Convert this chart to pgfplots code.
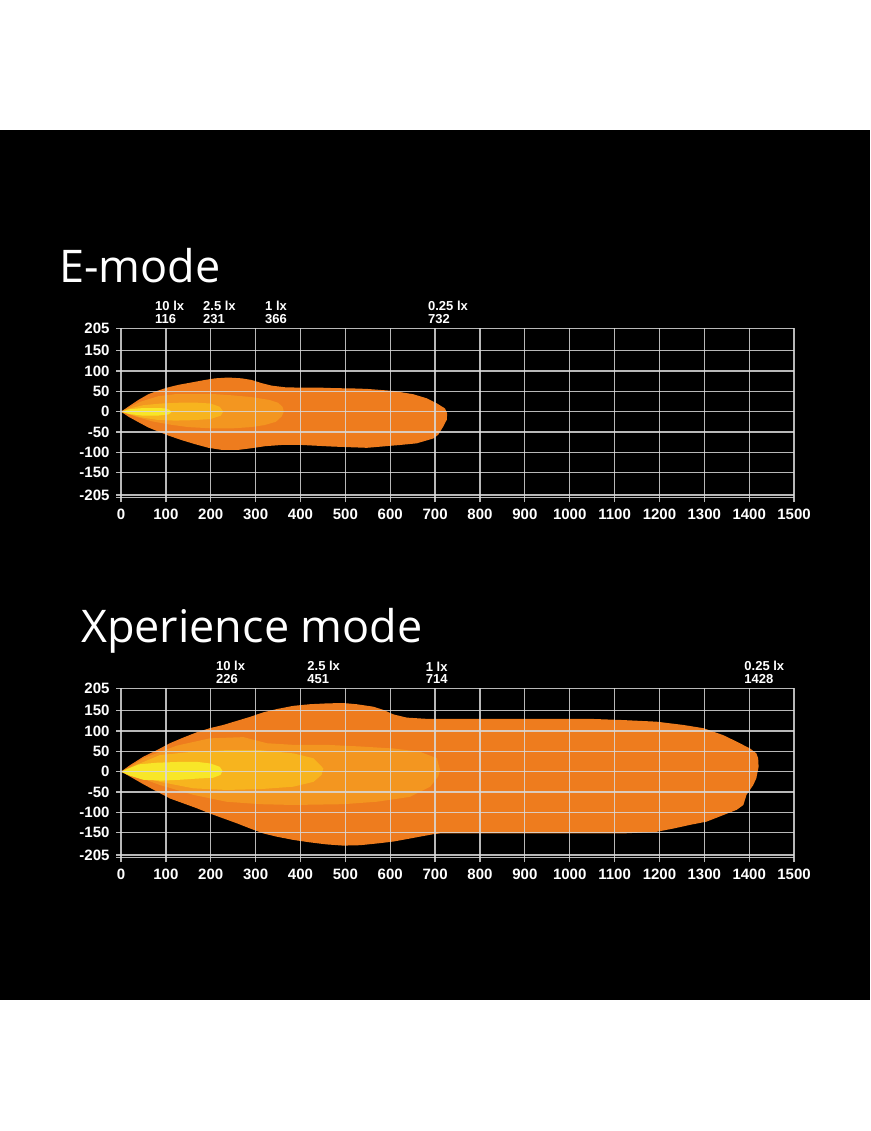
\documentclass[border=0pt]{standalone}
\usepackage{fontspec}
\setmainfont{Liberation Sans}
\newfontfamily\titlefont{Open Sans}
\usepackage{pgfplots}
\pgfplotsset{compat=1.18}
\definecolor{cA}{RGB}{238,124,30}
\definecolor{cB}{RGB}{243,150,32}
\definecolor{cC}{RGB}{247,180,30}
\definecolor{cD}{RGB}{248,230,40}
\tikzset{luxlbl/.style={anchor=south west, inner sep=0pt, align=left, white,
    font=\bfseries\fontsize{13}{12.6}\selectfont, yshift=4.5pt}}
\pgfplotsset{luxaxis/.style={
  scale only axis, x=0.4487pt, y=0.4063pt,
  xmin=0, xmax=1500, ymin=-211, ymax=205,
  axis on top, clip=false,
  axis line style={draw=none},
  xtick={0,100,200,300,400,500,600,700,800,900,1000,1100,1200,1300,1400,1500},
  xticklabels={0,100,200,300,400,500,600,700,800,900,1000,1100,1200,1300,1400,1500},
  ytick={-205,-150,-100,-50,0,50,100,150,205},
  yticklabels={-205,-150,-100,-50,0,50,100,150,205},
  extra y ticks={-211}, extra y tick labels={},
  extra y tick style={grid=major},
  grid=major,
  major grid style={white!85!black, opacity=0.85, line width=1.3pt},
  tick style={white!85!black, opacity=0.85, line width=1.3pt},
  xtick pos=left, ytick pos=left,
  tick align=outside, major tick length=5pt,
  tick label style={white, font=\bfseries\fontsize{15}{15}\selectfont},
  xticklabel style={yshift=-3pt},
  yticklabel style={xshift=-3pt},
}}
\begin{document}
\begin{tikzpicture}[x=1pt,y=1pt]
\fill[white] (0,0) rectangle (870,1131);
\fill[black] (0,131) rectangle (870,1001);
\node[anchor=base west, inner sep=0pt, white, font=\titlefont\fontsize{45}{45}\selectfont] at (59,848.3) {E-mode};
\node[anchor=base west, inner sep=0pt, white, font=\titlefont\fontsize{45}{45}\selectfont] at (81,488.3) {Xperience mode};

\begin{axis}[luxaxis, at={(121pt,633.6pt)}, anchor=south west]
\addplot[fill=cA, draw=none] coordinates {(0,0) (16,12) (39,29) (61,43) (83,52) (102,59) (128,66) (158,72) (187,78) (210,82) (239,84) (269,82) (291,78) (314,70) (336,64) (366,60) (403,59) (447,59) (473,58) (522,57) (548,56) (607,51) (651,43) (681,33) (703,21) (722,8) (727,-4) (726,-20) (718,-37) (707,-57) (696,-66) (659,-78) (622,-82) (548,-89) (473,-86) (403,-82) (358,-82) (321,-85) (291,-90) (262,-94) (224,-94) (195,-89) (165,-80) (135,-70) (106,-59) (83,-49) (61,-39) (39,-26) (16,-12)} -- cycle;
\addplot[fill=cB, draw=none] coordinates {(0,0) (20,12) (45,25) (83,38) (120,43) (170,43) (210,43) (250,40) (290,36) (330,29) (350,22) (360,12) (363,0) (358,-12) (345,-25) (320,-33) (290,-38) (250,-41) (200,-41) (150,-38) (110,-32) (70,-24) (35,-13) (12,-4)} -- cycle;
\addplot[fill=cC, draw=none] coordinates {(0,0) (20,8) (50,16) (90,20) (130,22) (170,22) (200,20) (220,12) (228,0) (222,-10) (200,-18) (160,-21) (120,-22) (80,-20) (45,-14) (15,-5)} -- cycle;
\addplot[fill=cD, draw=none] coordinates {(0,0) (20,6) (50,9) (80,9) (100,8) (110,3) (112,-2) (105,-7) (80,-10) (50,-10) (20,-6)} -- cycle;
\node[luxlbl] at (axis cs:75.8,205) {10 lx\\116};
\node[luxlbl] at (axis cs:182.7,205) {2.5 lx\\231};
\node[luxlbl] at (axis cs:321,205) {1 lx\\366};
\node[luxlbl] at (axis cs:684,205) {0.25 lx\\732};
\end{axis}

\begin{axis}[luxaxis, at={(121pt,273.6pt)}, anchor=south west]
\addplot[fill=cA, draw=none] coordinates {(0,0) (20,16) (50,37) (80,53) (109,70) (139,84) (169,97) (198,107) (228,115) (258,125) (288,135) (317,146) (347,154) (384,162) (421,166) (458,168) (495,169) (525,166) (562,160) (585,152) (607,141) (637,133) (681,130) (800,130) (950,130) (1045,130) (1119,127) (1194,123) (1253,115) (1298,107) (1342,90) (1372,74) (1402,57) (1416,45) (1420,33) (1421,12) (1416,-16) (1409,-33) (1394,-57) (1387,-82) (1372,-94) (1342,-107) (1305,-123) (1268,-131) (1231,-140) (1194,-148) (1119,-152) (1045,-152) (900,-152) (711,-152) (696,-154) (666,-160) (637,-166) (607,-172) (577,-176) (533,-181) (495,-182) (458,-179) (421,-174) (384,-168) (347,-160) (317,-152) (288,-140) (258,-127) (228,-115) (198,-103) (169,-90) (139,-78) (109,-66) (80,-49) (50,-31) (20,-12)} -- cycle;
\addplot[fill=cB, draw=none] coordinates {(0,0) (20,12) (50,33) (124,64) (198,82) (273,85) (325,70) (384,66) (458,66) (533,62) (607,57) (666,49) (704,33) (711,4) (707,-12) (689,-37) (644,-62) (570,-74) (496,-80) (384,-82) (310,-80) (235,-74) (161,-57) (87,-33) (35,-12) (15,-5)} -- cycle;
\addplot[fill=cC, draw=none] coordinates {(0,0) (35,17) (87,41) (161,49) (235,53) (310,53) (384,45) (429,33) (451,8) (447,-8) (429,-25) (384,-37) (310,-43) (235,-45) (161,-41) (87,-25) (35,-8)} -- cycle;
\addplot[fill=cD, draw=none] coordinates {(0,0) (15,7) (40,18) (80,22) (130,24) (170,24) (200,20) (220,12) (226,2) (222,-8) (205,-15) (170,-17) (130,-20) (90,-22) (50,-20) (20,-10)} -- cycle;
\node[luxlbl] at (axis cs:211.7,205) {10 lx\\226};
\node[luxlbl] at (axis cs:415,205) {2.5 lx\\451};
\node[luxlbl] at (axis cs:679,205) {1 lx\\714};
\node[luxlbl] at (axis cs:1389,205) {0.25 lx\\1428};
\end{axis}
\end{tikzpicture}
\end{document}
